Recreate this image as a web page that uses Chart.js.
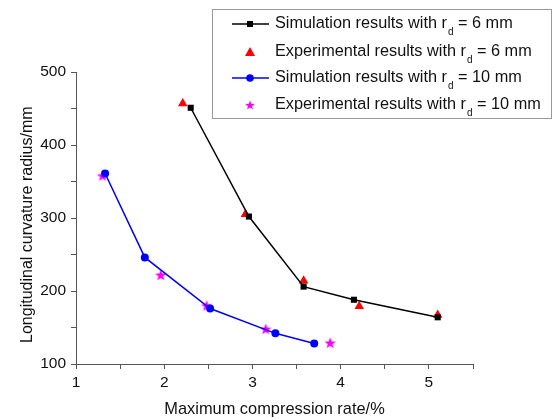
<!DOCTYPE html>
<html><head><meta charset="utf-8">
<script src="https://cdn.jsdelivr.net/npm/chart.js@4/dist/chart.umd.min.js"></script>
<style>html,body{margin:0;padding:0;background:#fff}#wrap{width:558px;height:419px}</style>
</head><body><div id="wrap"><canvas id="c" width="558" height="419"></canvas></div>
<script>
const sim6X = [2.30, 2.96, 3.58, 4.15, 5.10];
const sim6Y = [451, 302, 206, 188, 164];
const exp6X = [2.21, 2.92, 3.58, 4.21, 5.10];
const exp6Y = [457, 305, 214, 179, 167];
const sim10X = [1.33, 1.78, 2.52, 3.26, 3.70];
const sim10Y = [361, 246, 176, 142, 128];
const exp10X = [1.30, 1.96, 2.48, 3.15, 3.88];
const exp10Y = [358, 222, 180, 148, 129];
const xTicks = [1, 2, 3, 4, 5];
const yTicks = [100, 200, 300, 400, 500];
const legendItems = [
  {pre: 'Simulation results with r', sub: 'd', post: ' = 6 mm'},
  {pre: 'Experimental results with r', sub: 'd', post: ' = 6 mm'},
  {pre: 'Simulation results with r', sub: 'd', post: ' = 10 mm'},
  {pre: 'Experimental results with r', sub: 'd', post: ' = 10 mm'}
];

function pts(xs, ys){ return xs.map((x,i)=>({x:x, y:ys[i]})); }

function drawStar(ctx, cx, cy, R, r, color){
  ctx.beginPath();
  for(let i=0;i<10;i++){
    const a = -Math.PI/2 + i*Math.PI/5;
    const rad = i%2===0 ? R : r;
    const px = cx + rad*Math.cos(a), py = cy + rad*Math.sin(a);
    if(i===0) ctx.moveTo(px,py); else ctx.lineTo(px,py);
  }
  ctx.closePath();
  ctx.fillStyle = color; ctx.fill();
}
const starCanvas = document.createElement('canvas');
starCanvas.width = 14; starCanvas.height = 14;
drawStar(starCanvas.getContext('2d'), 7, 7.5, 6, 2.5, '#ff00ff');

const FONT = 'Liberation Sans, Arial, sans-serif';

const legendPlugin = {
  id: 'customLegend',
  afterDraw(chart){
    const ctx = chart.ctx;
    ctx.save();
    const bx = 212.5, by = 9.5, bw = 339, bh = 109;
    ctx.fillStyle = '#fff';
    ctx.fillRect(bx, by, bw, bh);
    ctx.strokeStyle = '#999';
    ctx.lineWidth = 1;
    ctx.strokeRect(bx, by, bw, bh);
    const rows = [24, 52, 78, 105];
    const lx1 = 232, lx2 = 269, mx = 250, tx = 275;
    rows.forEach((ry, i) => {
      if(i===0){
        ctx.strokeStyle = '#000'; ctx.lineWidth = 1.5;
        ctx.beginPath(); ctx.moveTo(lx1, ry); ctx.lineTo(lx2, ry); ctx.stroke();
        ctx.fillStyle = '#000'; ctx.fillRect(mx-3, ry-3, 6, 6);
      } else if(i===1){
        ctx.fillStyle = '#ff0000';
        ctx.beginPath(); ctx.moveTo(mx, ry-5); ctx.lineTo(mx+5, ry+4); ctx.lineTo(mx-5, ry+4); ctx.closePath(); ctx.fill();
      } else if(i===2){
        ctx.strokeStyle = '#0000ff'; ctx.lineWidth = 1.5;
        ctx.beginPath(); ctx.moveTo(lx1, ry); ctx.lineTo(lx2, ry); ctx.stroke();
        ctx.fillStyle = '#0000ff'; ctx.beginPath(); ctx.arc(mx, ry, 3.8, 0, Math.PI*2); ctx.fill();
      } else {
        drawStar(ctx, mx, ry+0.5, 5, 2.1, '#ff00ff');
      }
      const it = legendItems[i];
      ctx.fillStyle = '#111';
      ctx.textBaseline = 'middle';
      ctx.textAlign = 'left';
      ctx.font = '16.3px ' + FONT;
      ctx.fillText(it.pre, tx, ry);
      let w = ctx.measureText(it.pre).width;
      ctx.font = '10px ' + FONT;
      ctx.fillText(it.sub, tx + w + 1, ry + 8);
      const ws = ctx.measureText(it.sub).width;
      ctx.font = '16.3px ' + FONT;
      ctx.fillText(it.post, tx + w + ws + 1, ry);
    });
    ctx.restore();
  }
};

new Chart(document.getElementById('c'), {
  type: 'scatter',
  data: {
    datasets: [
      {data: pts(sim6X, sim6Y), showLine: true, borderColor: '#000', backgroundColor: '#000', borderWidth: 1.5,
       pointStyle: 'rect', pointRadius: 4.3, pointBorderWidth: 0},
      {data: pts(exp6X, exp6Y), showLine: false, borderColor: '#ff0000', backgroundColor: '#ff0000',
       pointStyle: 'triangle', pointRadius: 5.5, pointBorderWidth: 0},
      {data: pts(sim10X, sim10Y), showLine: true, borderColor: '#0000ff', backgroundColor: '#0000ff', borderWidth: 1.5,
       pointStyle: 'circle', pointRadius: 4, pointBorderWidth: 0},
      {data: pts(exp10X, exp10Y), showLine: false, borderColor: '#ff00ff', backgroundColor: '#ff00ff',
       pointStyle: starCanvas, pointRadius: 6}
    ]
  },
  options: {
    responsive: false,
    animation: false,
    clip: false,
    layout: {padding: {top: 72, right: 85, left: 0, bottom: 0}},
    plugins: {legend: {display: false}, tooltip: {enabled: false}},
    scales: {
      x: {
        type: 'linear', min: 1, max: 5.5,
        afterFit(s){ s.height = 55; },
        afterBuildTicks(s){ const t=[]; for(let v=1; v<=5.5001; v+=0.5) t.push({value: Math.round(v*10)/10}); s.ticks = t; },
        grid: {drawOnChartArea: false, drawTicks: true, tickLength: 5, color: '#555', tickColor: '#555'},
        border: {display: true, color: '#555', width: 1},
        ticks: {padding: 4, color: '#111', font: {family: FONT, size: 15.5},
                autoSkip: false, maxRotation: 0,
                callback: v => xTicks.includes(v) ? String(v) : ''},
        title: {display: true, text: 'Maximum compression rate/%', color: '#111',
                font: {family: FONT, size: 16.4}, padding: {top: 0, bottom: 0}}
      },
      y: {
        type: 'linear', min: 100, max: 500,
        afterFit(s){ s.width = 76; },
        afterBuildTicks(s){ const t=[]; for(let v=100; v<=500; v+=50) t.push({value: v}); s.ticks = t; },
        grid: {drawOnChartArea: false, drawTicks: true, tickLength: 5, color: '#555', tickColor: '#555'},
        border: {display: true, color: '#555', width: 1},
        ticks: {padding: 5, color: '#111', font: {family: FONT, size: 15.5}, autoSkip: false,
                callback: v => yTicks.includes(v) ? String(v) : ''},
        title: {display: true, text: 'Longitudinal curvature radius/mm\u00a0\u00a0\u00a0', color: '#111',
                font: {family: FONT, size: 16}, padding: {top: 18, bottom: 0}}
      }
    }
  },
  plugins: [legendPlugin]
});
</script></body></html>
